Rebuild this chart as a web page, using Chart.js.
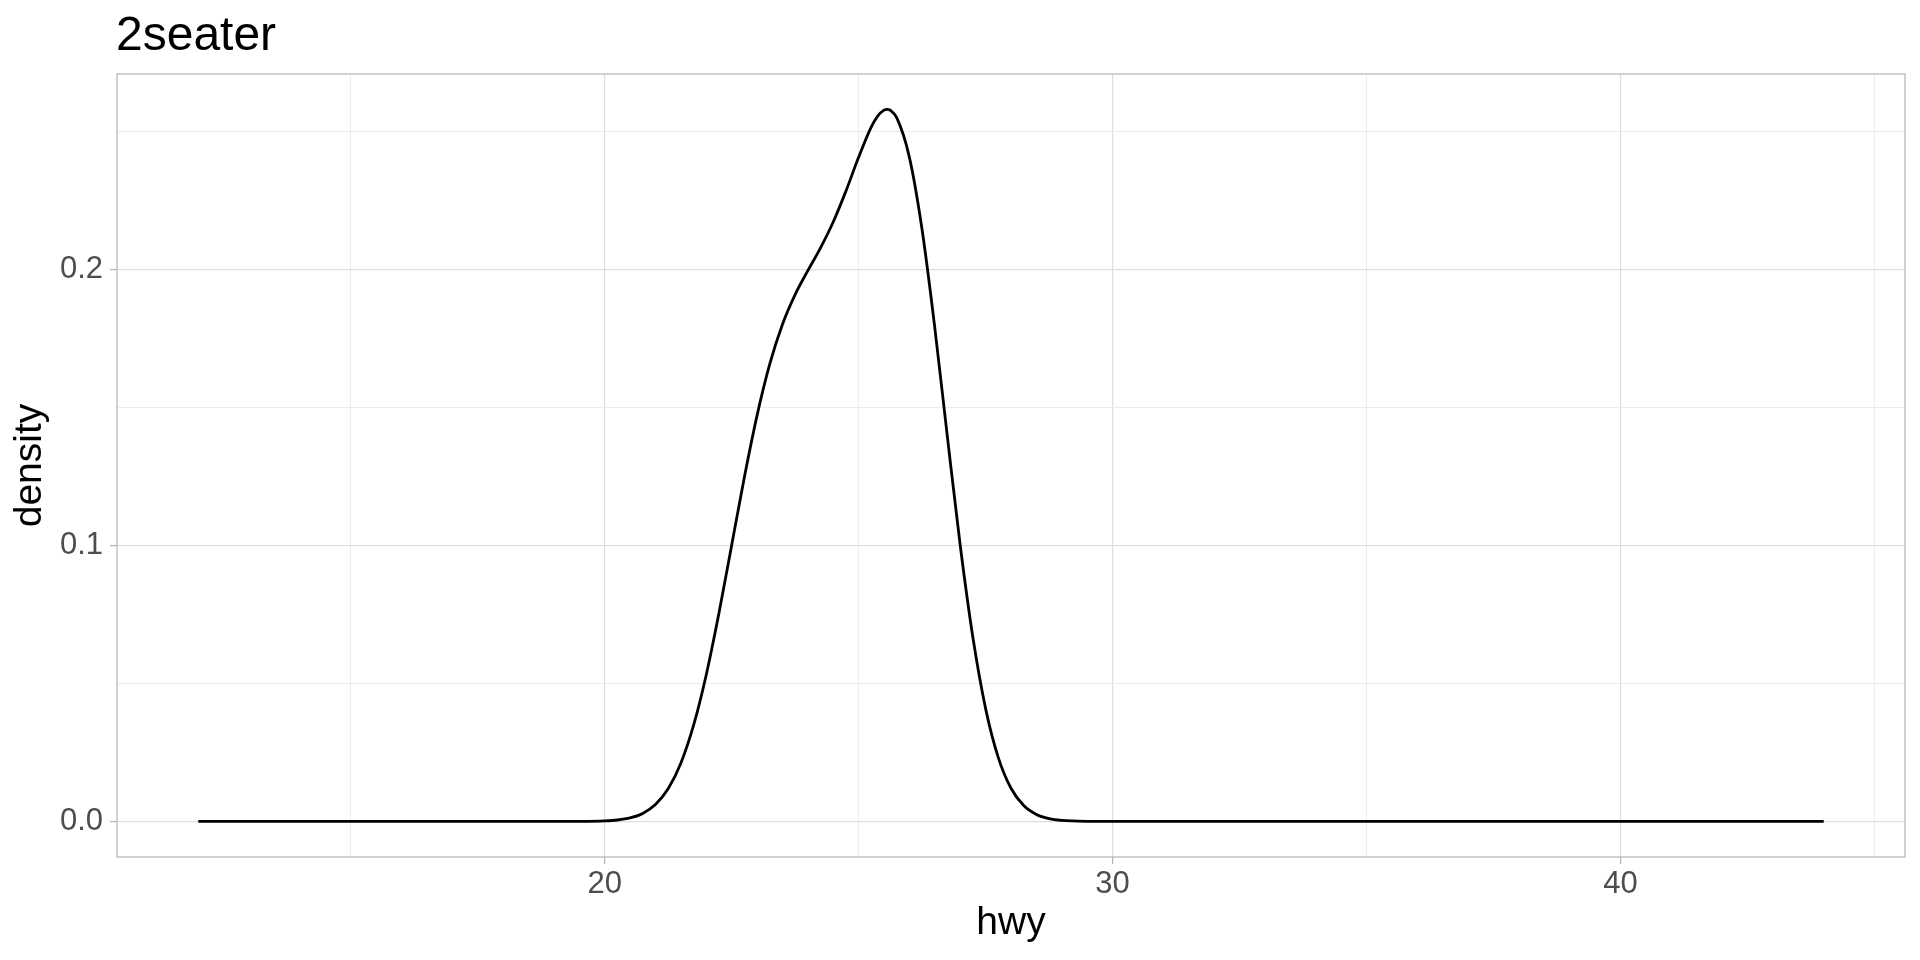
<!DOCTYPE html>
<html lang="en">
<head>
    <meta charset="UTF-8">
    <title>2seater hwy density</title>
    <style>
        body {
            margin: 0;
            background-color: #ffffff;
        }
        .chart-container {
            width: 1920px;
            height: 960px;
        }
    </style>
</head>
<body>
    <div class="chart-container">
        <canvas id="densityChart"></canvas>
    </div>

    <script src="https://cdn.jsdelivr.net/npm/chart.js"></script>

    <script>
        // Chart data
        const chartTitle = '2seater';
        const xTitle = 'hwy';
        const yTitle = 'density';

        const hwyGrid = [12, 16, 18, 18.5, 19, 19.5, 20, 20.25, 20.5, 20.75, 21, 21.25, 21.5, 21.75,
            22, 22.25, 22.5, 22.75, 23, 23.25, 23.5, 23.75, 24, 24.25, 24.5, 24.75,
            25, 25.25, 25.375, 25.5, 25.5625, 25.625, 25.75, 26, 26.25, 26.5, 26.75, 27, 27.25, 27.5, 27.75,
            28, 28.25, 28.5, 28.75, 29, 29.5, 30, 32, 36, 40, 44];
        const densityValues = [0, 0, 0, 0, 0, 0.00002, 0.00019, 0.00051, 0.00127, 0.00290, 0.00610, 0.01181, 0.02108, 0.03477,
            0.05309, 0.07541, 0.10001, 0.12466, 0.14708, 0.16573, 0.18014, 0.19096, 0.19961, 0.20789, 0.21726, 0.22845,
            0.24069, 0.25171, 0.25562, 0.25780, 0.25810, 0.25776, 0.25506, 0.24069, 0.21443, 0.17891, 0.13899, 0.10009, 0.06663, 0.04089, 0.02312,
            0.01201, 0.00574, 0.00252, 0.00101, 0.00038, 0.00004, 0, 0, 0, 0, 0];

        const xTicks = [15, 20, 25, 30, 35, 40, 45];
        const xMajor = [20, 30, 40];
        const yTicks = [0, 0.05, 0.1, 0.15, 0.2, 0.25];
        const yMajor = [0, 0.1, 0.2];

        const points = hwyGrid.map((x, i) => ({ x: x, y: densityValues[i] }));

        Chart.defaults.font.family = "'Liberation Sans', Arial, sans-serif";

        const isMajor = (list, v) => list.some(m => Math.abs(m - v) < 1e-9);

        // ggplot-like title and panel border
        const panelPlugin = {
            id: 'panelPlugin',
            afterDatasetsDraw(chart) {
                const { ctx, chartArea } = chart;
                ctx.save();
                ctx.strokeStyle = '#b3b3b3';
                ctx.lineWidth = 1.2;
                ctx.strokeRect(chartArea.left, chartArea.top, chartArea.right - chartArea.left, chartArea.bottom - chartArea.top);
                ctx.restore();
            },
            afterDraw(chart) {
                const { ctx, chartArea } = chart;
                ctx.save();
                ctx.font = "48px 'Liberation Sans', Arial, sans-serif";
                ctx.fillStyle = '#000000';
                ctx.textBaseline = 'alphabetic';
                ctx.textAlign = 'left';
                ctx.fillText(chartTitle, chartArea.left - 1, 50);
                ctx.restore();
            }
        };

        new Chart(document.getElementById('densityChart').getContext('2d'), {
            type: 'line',
            data: {
                datasets: [{
                    label: yTitle,
                    data: points,
                    borderColor: '#000000',
                    borderWidth: 2.8,
                    pointRadius: 0,
                    fill: false,
                    cubicInterpolationMode: 'monotone'
                }]
            },
            options: {
                responsive: true,
                maintainAspectRatio: false,
                animation: false,
                layout: {
                    padding: { top: 74, right: 15, left: 0, bottom: 0 }
                },
                plugins: {
                    legend: { display: false },
                    tooltip: { enabled: false }
                },
                scales: {
                    x: {
                        type: 'linear',
                        min: 10.4,
                        max: 45.6,
                        afterBuildTicks: axis => { axis.ticks = xTicks.map(v => ({ value: v })); },
                        afterFit: axis => { axis.height = 103; },
                        border: { display: false },
                        grid: {
                            color: ctx => isMajor(xMajor, ctx.tick.value) ? '#dedede' : '#ececec',
                            lineWidth: ctx => isMajor(xMajor, ctx.tick.value) ? 1.2 : 1,
                            tickColor: ctx => isMajor(xMajor, ctx.tick.value) ? '#b3b3b3' : 'rgba(0,0,0,0)',
                            tickLength: 7,
                            tickWidth: 1.2
                        },
                        ticks: {
                            color: '#4d4d4d',
                            font: { size: 31 },
                            padding: 2,
                            maxRotation: 0,
                            autoSkip: false,
                            callback: v => isMajor(xMajor, v) ? String(v) : ''
                        },
                        title: {
                            display: true,
                            text: xTitle,
                            color: '#000000',
                            font: { size: 39 },
                            padding: { top: 0, bottom: 13 }
                        }
                    },
                    y: {
                        type: 'linear',
                        min: -0.0129,
                        max: 0.2709,
                        afterBuildTicks: axis => { axis.ticks = yTicks.map(v => ({ value: v })); },
                        afterFit: axis => { axis.width = 117; },
                        border: { display: false },
                        grid: {
                            color: ctx => isMajor(yMajor, ctx.tick.value) ? '#dedede' : '#ececec',
                            lineWidth: ctx => isMajor(yMajor, ctx.tick.value) ? 1.2 : 1,
                            tickColor: ctx => isMajor(yMajor, ctx.tick.value) ? '#b3b3b3' : 'rgba(0,0,0,0)',
                            tickLength: 7,
                            tickWidth: 1.2
                        },
                        ticks: {
                            color: '#4d4d4d',
                            font: { size: 31 },
                            padding: 7,
                            autoSkip: false,
                            callback: v => isMajor(yMajor, v) ? v.toFixed(1) : ''
                        },
                        title: {
                            display: true,
                            text: yTitle,
                            color: '#000000',
                            font: { size: 39 },
                            padding: { top: 7, bottom: 0 }
                        }
                    }
                }
            },
            plugins: [panelPlugin]
        });
    </script>
</body>
</html>
